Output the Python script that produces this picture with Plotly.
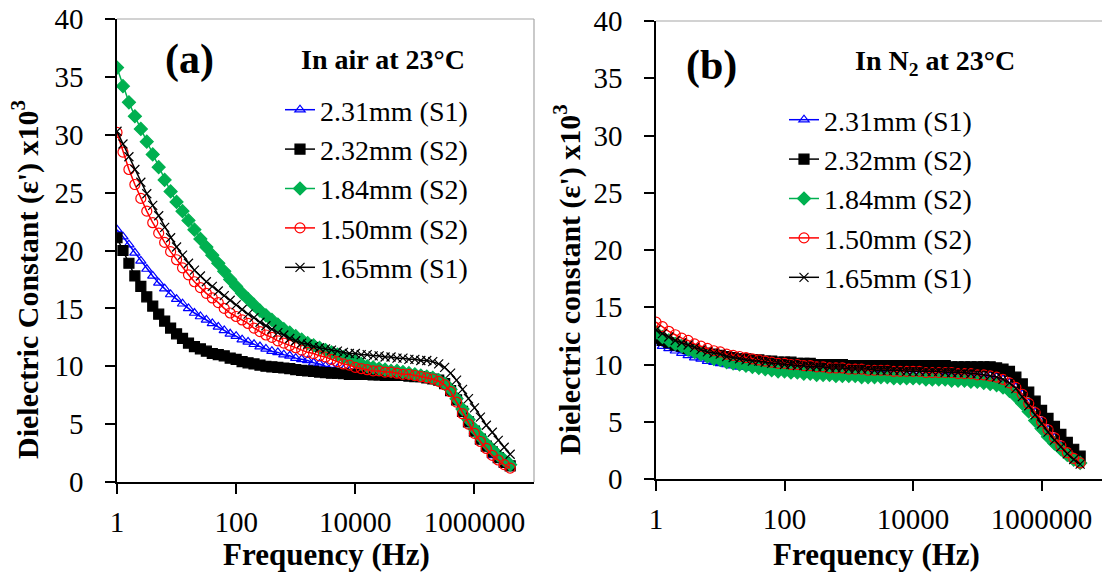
import plotly.graph_objects as go

# Measurement frequencies (Hz), shared by every sample
freq_hz = [1, 1.259, 1.585, 1.995, 2.512, 3.162, 3.981, 5.012, 6.31, 7.943,
           10, 12.59, 15.85, 19.95, 25.12, 31.62, 39.81, 50.12, 63.1, 79.43,
           100, 125.9, 158.5, 199.5, 251.2, 316.2, 398.1, 501.2, 631, 794.3,
           1000, 1259, 1585, 1995, 2512, 3162, 3981, 5012, 6310, 7943,
           10000, 12590, 15850, 19950, 25120, 31620, 39810, 50120, 63100, 79430,
           100000, 125900, 158500, 199500, 251200, 316200, 398100, 501200, 631000, 794300,
           1000000, 1259000, 1585000, 1995000, 2512000, 3162000, 3981000]

sample_labels = ["2.31mm (S1)", "2.32mm (S2)", "1.84mm (S2)", "1.50mm (S2)", "1.65mm (S1)"]

# Dielectric constant (x10^3) measured in air at 23 C
air_231_s1 = [21.8, 21.2, 20.5, 19.8, 19.1, 18.4, 17.8, 17.2, 16.7, 16.2,
              15.8, 15.4, 15.0, 14.6, 14.3, 14.0, 13.7, 13.4, 13.1, 12.8,
              12.6, 12.3, 12.1, 11.9, 11.7, 11.5, 11.3, 11.2, 11.0, 10.9,
              10.7, 10.6, 10.5, 10.3, 10.2, 10.0, 9.9, 9.8, 9.7, 9.6,
              9.5, 9.5, 9.4, 9.4, 9.3, 9.3, 9.3, 9.2, 9.2, 9.2,
              9.1, 9.1, 9.0, 8.9, 8.7, 8.4, 7.8, 6.9, 5.9, 5.0,
              4.2, 3.5, 2.9, 2.3, 1.9, 1.5, 1.3]
air_232_s2 = [21.1, 20.0, 18.9, 17.8, 16.9, 16.0, 15.2, 14.5, 13.9, 13.3,
              12.8, 12.4, 12.0, 11.7, 11.5, 11.3, 11.1, 11.0, 10.9, 10.7,
              10.6, 10.4, 10.3, 10.2, 10.1, 10.0, 9.95, 9.9, 9.85, 9.8,
              9.7, 9.65, 9.6, 9.55, 9.5, 9.45, 9.4, 9.4, 9.35, 9.3,
              9.3, 9.3, 9.3, 9.25, 9.25, 9.2, 9.2, 9.2, 9.2, 9.15,
              9.1, 9.1, 9.0, 8.9, 8.8, 8.5, 7.9, 7.1, 6.1, 5.2,
              4.4, 3.7, 3.1, 2.6, 2.1, 1.7, 1.4]
air_184_s2 = [35.8, 34.2, 32.8, 31.6, 30.5, 29.4, 28.3, 27.2, 26.1, 25.1,
              24.2, 23.4, 22.6, 21.8, 21.0, 20.3, 19.6, 18.9, 18.2, 17.5,
              16.9, 16.3, 15.8, 15.3, 14.8, 14.4, 14.0, 13.6, 13.2, 12.9,
              12.6, 12.3, 12.0, 11.8, 11.6, 11.4, 11.2, 11.0, 10.8, 10.6,
              10.4, 10.2, 10.0, 9.9, 9.8, 9.7, 9.6, 9.6, 9.5, 9.4,
              9.3, 9.2, 9.1, 9.0, 8.8, 8.5, 8.0, 7.2, 6.3, 5.4,
              4.6, 3.9, 3.3, 2.8, 2.3, 1.9, 1.5]
air_150_s2 = [30.2, 28.5, 27.0, 25.7, 24.5, 23.4, 22.4, 21.5, 20.7, 19.9,
              19.2, 18.5, 17.9, 17.3, 16.8, 16.3, 15.9, 15.5, 15.0, 14.6,
              14.3, 14.0, 13.7, 13.3, 13.0, 12.7, 12.5, 12.2, 12.0, 11.8,
              11.6, 11.4, 11.2, 11.1, 10.9, 10.8, 10.6, 10.4, 10.2, 10.1,
              9.9, 9.8, 9.7, 9.6, 9.6, 9.5, 9.5, 9.4, 9.3, 9.3,
              9.2, 9.1, 9.0, 8.9, 8.7, 8.4, 7.8, 6.9, 5.9, 5.0,
              4.2, 3.5, 2.9, 2.3, 1.9, 1.5, 1.2]
air_165_s1 = [30.3, 29.2, 28.1, 27.0, 25.9, 24.9, 23.9, 23.0, 22.0, 21.1,
              20.3, 19.6, 18.9, 18.3, 17.8, 17.3, 16.9, 16.5, 16.1, 15.7,
              15.3, 14.9, 14.5, 14.2, 13.8, 13.5, 13.2, 12.9, 12.7, 12.4,
              12.2, 12.0, 11.9, 11.7, 11.6, 11.5, 11.4, 11.3, 11.2, 11.1,
              11.1, 11.0, 11.0, 10.9, 10.9, 10.8, 10.8, 10.7, 10.7, 10.6,
              10.6, 10.5, 10.5, 10.4, 10.2, 9.9, 9.4, 8.8, 8.0, 7.2,
              6.4, 5.6, 4.9, 4.3, 3.6, 3.0, 2.4]

# Dielectric constant (x10^3) measured in N2 at 23 C
n2_231_s1 = [11.9, 11.6, 11.4, 11.2, 11.0, 10.8, 10.6, 10.5, 10.3, 10.2,
             10.1, 10.0, 9.9, 9.8, 9.8, 9.7, 9.7, 9.6, 9.6, 9.6,
             9.5, 9.5, 9.5, 9.5, 9.5, 9.4, 9.4, 9.4, 9.4, 9.4,
             9.4, 9.4, 9.4, 9.4, 9.4, 9.4, 9.4, 9.4, 9.4, 9.4,
             9.4, 9.4, 9.4, 9.4, 9.4, 9.4, 9.3, 9.3, 9.2, 9.2,
             9.1, 9.1, 9.0, 8.9, 8.7, 8.4, 8.0, 7.4, 6.6, 5.8,
             5.0, 4.3, 3.6, 2.9, 2.3, 1.9, 1.6]
n2_232_s2 = [12.3, 12.1, 11.9, 11.7, 11.6, 11.4, 11.3, 11.1, 11.0, 10.9,
             10.8, 10.7, 10.6, 10.5, 10.5, 10.4, 10.4, 10.3, 10.3, 10.2,
             10.2, 10.2, 10.1, 10.1, 10.1, 10.0, 10.0, 10.0, 10.0, 10.0,
             9.9, 9.9, 9.9, 9.9, 9.9, 9.9, 9.9, 9.9, 9.9, 9.9,
             9.9, 9.9, 9.9, 9.9, 9.9, 9.9, 9.8, 9.8, 9.8, 9.8,
             9.8, 9.8, 9.8, 9.7, 9.6, 9.4, 8.9, 8.3, 7.6, 6.8,
             6.0, 5.3, 4.6, 3.9, 3.2, 2.6, 2.0]
n2_184_s2 = [12.8, 12.4, 12.1, 11.8, 11.6, 11.3, 11.1, 10.9, 10.7, 10.5,
             10.4, 10.2, 10.1, 10.0, 9.9, 9.8, 9.7, 9.6, 9.5, 9.4,
             9.4, 9.3, 9.3, 9.2, 9.2, 9.1, 9.1, 9.1, 9.0, 9.0,
             9.0, 9.0, 8.9, 8.9, 8.9, 8.9, 8.9, 8.8, 8.8, 8.8,
             8.8, 8.8, 8.7, 8.7, 8.7, 8.7, 8.6, 8.6, 8.6, 8.5,
             8.5, 8.4, 8.3, 8.2, 8.0, 7.7, 7.2, 6.6, 5.9, 5.1,
             4.4, 3.7, 3.1, 2.6, 2.1, 1.7, 1.4]
n2_150_s2 = [13.7, 13.3, 12.9, 12.6, 12.3, 12.1, 11.8, 11.6, 11.4, 11.2,
             11.1, 10.9, 10.8, 10.7, 10.6, 10.5, 10.4, 10.3, 10.2, 10.1,
             10.1, 10.0, 10.0, 9.9, 9.9, 9.8, 9.8, 9.7, 9.7, 9.7,
             9.6, 9.6, 9.6, 9.5, 9.5, 9.5, 9.5, 9.4, 9.4, 9.4,
             9.4, 9.4, 9.3, 9.3, 9.3, 9.3, 9.3, 9.2, 9.2, 9.2,
             9.1, 9.1, 9.0, 8.9, 8.7, 8.4, 8.0, 7.4, 6.6, 5.8,
             5.0, 4.3, 3.6, 2.9, 2.3, 1.8, 1.4]
n2_165_s1 = [13.0, 12.7, 12.4, 12.1, 11.9, 11.7, 11.5, 11.3, 11.1, 11.0,
             10.9, 10.7, 10.6, 10.5, 10.4, 10.3, 10.3, 10.2, 10.1, 10.1,
             10.0, 10.0, 9.9, 9.9, 9.8, 9.8, 9.8, 9.7, 9.7, 9.7,
             9.6, 9.6, 9.6, 9.6, 9.5, 9.5, 9.5, 9.5, 9.5, 9.4,
             9.4, 9.4, 9.4, 9.4, 9.4, 9.3, 9.3, 9.3, 9.3, 9.2,
             9.2, 9.1, 9.0, 8.9, 8.7, 8.4, 7.9, 7.2, 6.4, 5.6,
             4.8, 4.1, 3.4, 2.8, 2.2, 1.7, 1.3]

freq_tickvals = [1, 100, 10000, 1000000]
freq_ticktext = ["1", "100", "10000", "1000000"]

SERIF = "Liberation Serif"
W, H = 1102, 575

# (colour, marker symbol, marker size) per sample
styles = [
    ("#0000ff", "triangle-up-open", 9),
    ("#000000", "square", 10),
    ("#00b050", "diamond", 10),
    ("#ff0000", "circle-open", 10),
    ("#000000", "x-thin-open", 9),
]

fig = go.Figure()

panels = [
    ("x", "y", "legend", [air_231_s1, air_232_s2, air_184_s2, air_150_s2, air_165_s1]),
    ("x2", "y2", "legend2", [n2_231_s1, n2_232_s2, n2_184_s2, n2_150_s2, n2_165_s1]),
]
for xa, ya, leg, series in panels:
    for label, values, (color, symbol, size) in zip(sample_labels, series, styles):
        fig.add_trace(go.Scatter(
            x=freq_hz, y=values, name=label, mode="lines+markers",
            xaxis=xa, yaxis=ya, legend=leg,
            line=dict(color=color, width=1.5),
            marker=dict(symbol=symbol, size=size, color=color,
                        line=dict(color=color, width=1.2)),
        ))

tick_font = dict(family=SERIF, size=29, color="black")
common_x = dict(type="log", tickvals=freq_tickvals, ticktext=freq_ticktext,
                ticks="outside", ticklen=10, tickwidth=1.5, tickcolor="black",
                showline=True, linecolor="black", linewidth=1.5,
                showgrid=False, zeroline=False, tickfont=tick_font,
                ticklabelstandoff=3, automargin=False)
common_y = dict(range=[0, 40], dtick=5, ticks="outside", ticklen=10,
                tickwidth=1.5, tickcolor="black", showline=True,
                linecolor="black", linewidth=1.5, showgrid=False,
                zeroline=False, tickfont=tick_font, ticklabelstandoff=16,
                automargin=False)

fig.update_layout(
    width=W, height=H,
    margin=dict(l=0, r=0, t=0, b=0, autoexpand=False),
    paper_bgcolor="white", plot_bgcolor="white",
    xaxis=dict(common_x, domain=[117 / W, 534 / W], range=[0, 7], anchor="y"),
    yaxis=dict(common_y, domain=[1 - 482 / H, 1 - 19 / H], anchor="x"),
    xaxis2=dict(common_x, domain=[656 / W, 1.0], range=[0, 6.94], anchor="y2"),
    yaxis2=dict(common_y, domain=[1 - 479 / H, 1 - 21 / H], anchor="x2"),
    legend=dict(x=280 / W, y=1 - 85 / H, xanchor="left", yanchor="top",
                bgcolor="rgba(0,0,0,0)", font=dict(family=SERIF, size=28, color="black"),
                tracegroupgap=0),
    legend2=dict(x=784 / W, y=1 - 95 / H, xanchor="left", yanchor="top",
                 bgcolor="rgba(0,0,0,0)", font=dict(family=SERIF, size=28, color="black"),
                 tracegroupgap=0),
    showlegend=True,
)

# Grey top/right frame lines
frame = dict(color="#a6a6a6", width=1.2)
fig.add_shape(type="line", xref="x domain", yref="y domain", x0=0, x1=1, y0=1, y1=1, line=frame)
fig.add_shape(type="line", xref="x domain", yref="y domain", x0=1, x1=1, y0=0, y1=1, line=frame)
fig.add_shape(type="line", xref="x2 domain", yref="y2 domain", x0=0, x1=1, y0=1, y1=1, line=frame)

bold = lambda s: f"<b>{s}</b>"
texts = [
    # (text, x px, y px, size, angle)
    (bold("(a)"), 189, 60, 42, 0),
    (bold("In air at 23°C"), 383, 60, 28, 0),
    (bold("(b)"), 711, 65, 42, 0),
    (bold("In N<sub>2</sub> at 23°C"), 935, 62, 28, 0),
    (bold("Frequency (Hz)"), 326, 554, 31, 0),
    (bold("Frequency (Hz)"), 876, 554, 31, 0),
    (bold("Dielectric Constant (ε') x10<sup>3</sup>"), 25, 280, 30, -90),
    (bold("Dielectric constant (ε') x10<sup>3</sup>"), 567, 280, 30, -90),
]
for text, px, py, size, angle in texts:
    fig.add_annotation(text=text, xref="paper", yref="paper",
                       x=px / W, y=1 - py / H, xanchor="center", yanchor="middle",
                       showarrow=False, textangle=angle,
                       font=dict(family=SERIF, size=size, color="black"))

fig.write_html("out.html")
